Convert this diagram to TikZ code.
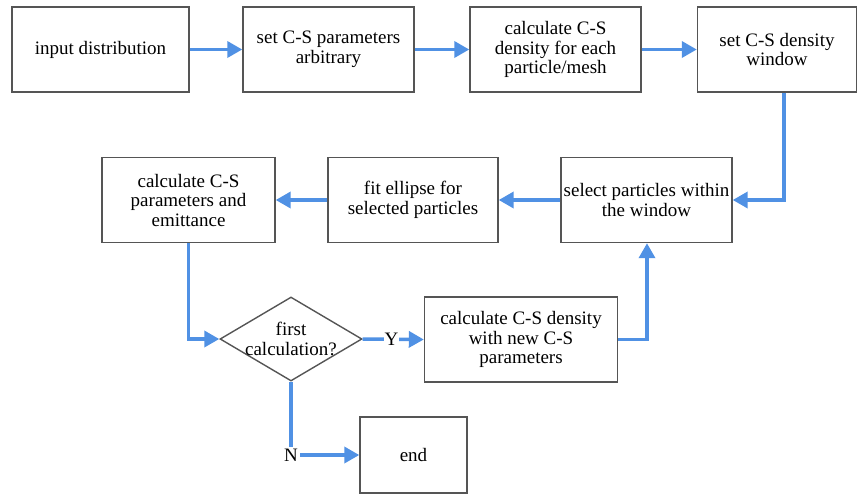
\documentclass[tikz,border=0pt]{standalone}
\usepackage{fontspec}
\setmainfont{Liberation Serif}
\usetikzlibrary{shapes.geometric,arrows.meta}
\definecolor{flowblue}{RGB}{80,145,228}
\definecolor{boxgray}{RGB}{85,85,85}

\begin{document}
\begin{tikzpicture}[x=1pt,y=-1pt,
    box/.style={draw=boxgray, line width=1.4pt, align=center, inner sep=0pt,
        font=\fontsize{19}{19.5}\selectfont},
    flow/.style={draw=flowblue, line width=3.5pt,
        -{Triangle[length=15pt,width=16pt]}},
    lbl/.style={fill=white, inner sep=1pt, font=\fontsize{19}{19.5}\selectfont}]
    \useasboundingbox (0,0) rectangle (859,496);
    % top row
    \node[box, minimum width=177pt, minimum height=85pt] (input) at (100.5,49.5) {input distribution};
    \node[box, minimum width=171pt, minimum height=85pt] (setcs) at (328.5,49.5) {set C-S parameters\\arbitrary};
    \node[box, minimum width=171pt, minimum height=85pt] (dens) at (555.5,49.5) {calculate C-S\\density for each\\particle/mesh};
    \node[box, minimum width=159pt, minimum height=85pt] (window) at (777,49.5) {set C-S density\\window};
    % middle row
    \node[box, minimum width=171pt, minimum height=85pt] (select) at (646.5,200) {select particles within\\the window};
    \node[box, minimum width=170pt, minimum height=85pt] (fit) at (413,200) {fit ellipse for\\selected particles};
    \node[box, minimum width=173pt, minimum height=85pt] (emit) at (188.5,200) {calculate C-S\\parameters and\\emittance};
    % bottom
    \node[box, diamond, aspect=1.69, minimum width=142pt, minimum height=84pt] (first) at (291,339) {};
    \node[align=center, inner sep=0pt, font=\fontsize{19}{19.5}\selectfont] (firsttxt) at (first) {first\\calculation?};
    \node[box, minimum width=193pt, minimum height=85pt] (newdens) at (521,339.5) {calculate C-S density\\with new C-S\\parameters};
    \node[box, minimum width=107pt, minimum height=76pt] (end) at (413.5,455) {end};
    \coordinate (turn) at (647,339.5);
    % connectors
    \draw[flow] (input) -- (setcs);
    \draw[flow] (setcs) -- (dens);
    \draw[flow] (dens) -- (window);
    \draw[flow] (window.south -| 784,0) |- (select.east);
    \draw[flow] (select) -- (fit);
    \draw[flow] (fit) -- (emit);
    \draw[flow] (emit.south) |- (first.west);
    \draw[flow] (first.east) -- node[lbl, pos=0.47] {Y} (newdens.west);
    \draw[flow] (newdens.east) -- (turn) -- (turn |- select.south);
    \draw[flow] (first.south) |- node[lbl, pos=0.5, inner sep=2pt] {N} (end.west);
\end{tikzpicture}
\end{document}
